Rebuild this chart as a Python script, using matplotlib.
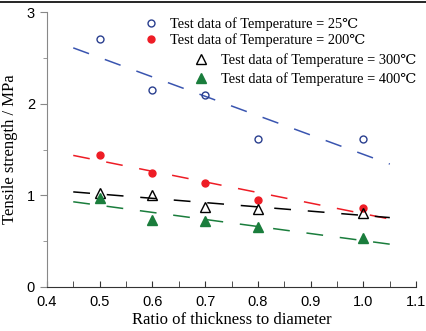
import matplotlib
matplotlib.use("Agg")
import matplotlib.pyplot as plt
from matplotlib.ticker import MultipleLocator
import numpy as np

# data
ratio = [0.5, 0.6, 0.7, 0.8, 1.0]
t25 = [2.71, 2.15, 2.10, 1.62, 1.62]
t200 = [1.44, 1.24, 1.13, 0.95, 0.86]
t300 = [1.03, 1.00, 0.87, 0.85, 0.81]
t400 = [0.97, 0.73, 0.72, 0.66, 0.53]
fit_x = [0.45, 1.05]

serif = ["Liberation Serif", "DejaVu Serif"]
sans = ["Liberation Sans", "DejaVu Sans"]

fig = plt.figure(figsize=(4.26, 3.31), dpi=100)
ax = fig.add_axes([0.110, 0.133, 0.867, 0.830])

series = [
    (t25, "Test data of Temperature = 25\u2103", "o", "none", "#2a3f8f", "#3a55b0"),
    (t200, "Test data of Temperature = 200\u2103", "o", "#ee1c25", "#ee1c25", "#ee1c25"),
    (t300, "Test data of Temperature = 300\u2103", "^", "none", "black", "black"),
    (t400, "Test data of Temperature = 400\u2103", "^", "#1a7d3c", "#1a7d3c", "#1a7d3c"),
]

handles = []
for y, lab, mk, fc, ec, lc in series:
    # linear fit drawn as long dashes
    k, b = np.polyfit(ratio, y, 1)
    xs = np.array(fit_x)
    ax.plot(xs, k * xs + b, color=lc, lw=1.1, dashes=(11, 11), zorder=2)
    h, = ax.plot(ratio, y, ls="none", marker=mk, ms=5 if mk == "o" else 6.5,
                 mfc=fc, mec=ec, mew=1.0, label=lab, zorder=3)
    handles.append(h)

leg1 = ax.legend(handles[:2], [h.get_label() for h in handles[:2]],
                 loc="upper left", bbox_to_anchor=(0.222, 1.028), frameon=False,
                 prop={"family": serif, "size": 10.4}, handletextpad=0.75,
                 labelspacing=0.12, handlelength=1.2)
ax.add_artist(leg1)
ax.legend(handles[2:], [h.get_label() for h in handles[2:]],
          loc="upper left", bbox_to_anchor=(0.36, 0.898), frameon=False,
          prop={"family": serif, "size": 10.4}, handletextpad=0.75,
          labelspacing=0.38, handlelength=1.2)

ax.set_xlim(0.4, 1.1)
ax.set_ylim(0, 3)
ax.xaxis.set_major_locator(MultipleLocator(0.1))
ax.xaxis.set_minor_locator(MultipleLocator(0.05))
ax.yaxis.set_major_locator(MultipleLocator(1))
ax.yaxis.set_minor_locator(MultipleLocator(0.5))
ax.set_xticklabels([f"{v:.1f}" for v in ax.get_xticks()])
ax.tick_params(axis="x", which="both", direction="in", length=4, colors="#333333",
               labelcolor="black", labelsize=10.5, pad=6)
ax.tick_params(axis="y", which="major", direction="out", length=5, colors="#888888",
               labelcolor="black", labelsize=10.5)
ax.tick_params(axis="y", which="minor", direction="out", length=3, colors="#888888")
for t in ax.get_xticklabels() + ax.get_yticklabels():
    t.set_family(sans)

ax.spines["top"].set_visible(False)
ax.spines["right"].set_visible(False)
ax.spines["left"].set_color("#888888")
ax.spines["bottom"].set_color("#333333")

ax.set_xlabel("Ratio of thickness to diameter", family=serif, size=12, labelpad=2)
ax.set_ylabel("Tensile strength / MPa", family=serif, size=12, labelpad=6)

# thin frame line along the top of the image
fig.add_artist(plt.Line2D([0, 1], [0.994, 0.994], color="black", lw=1.2,
                          transform=fig.transFigure))

fig.savefig("out.png", dpi=100)
